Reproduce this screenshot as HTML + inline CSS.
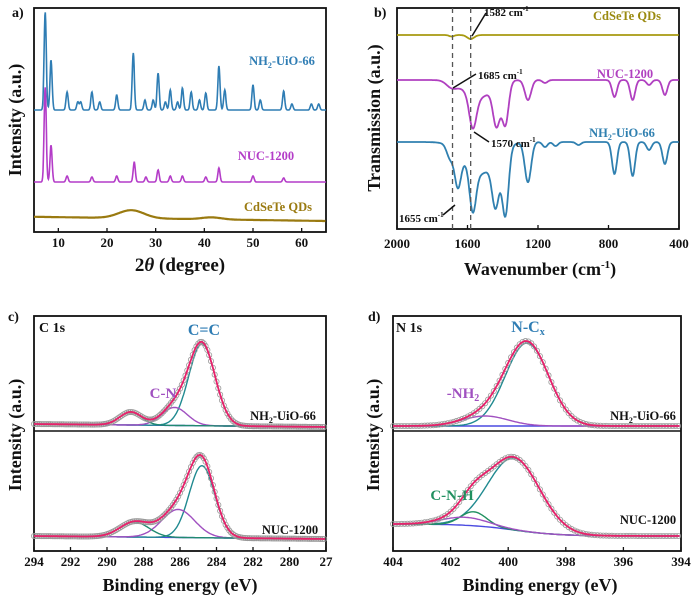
<!DOCTYPE html>
<html><head><meta charset="utf-8"><style>
html,body{margin:0;padding:0;background:#fff}
svg{display:block}
text{font-family:"Liberation Serif",serif;font-weight:bold}
</style></head><body>
<svg id="fig" width="700" height="599" viewBox="0 0 700 599" xmlns="http://www.w3.org/2000/svg"></svg>
<script>
// ---------- DATA ----------
// (a) XRD peaks: 2theta, height (a.u.)
const xrdBluePos = [7.3,8.5,11.8,14,14.6,16.9,18.5,22,25.4,27.8,29.5,30.5,32,33,34.5,35.5,37.3,39,40.3,43,44.2,50,51.5,56.3,58,62,63.5];
const xrdBlueH   = [98,50,18,8,8,18,8,15,57,10,10,37,8,20,8,22,18,10,17,44,20,25,10,19,6,6,6];
const xrdPurpPos = [7.3,8.5,11.8,16.9,22,25.6,28,30.5,33,35.5,40.3,43,50,56.3];
const xrdPurpH   = [95,37,6,5,6,20,5,12,6,6,5,14,6,4];
const xrdOlivePos = [25,41.5];
const xrdOliveH   = [8,2];
const xrdXTicks = [10,20,30,40,50,60];
// (b) FTIR bands: wavenumber, depth, width
const irBluePos = [1530,1700,1655,1570,1440,1385,1257,1160,1100,970,766,663,570,480];
const irBlueD   = [32,12,35,42,48,66,40,5,4,3,32,34,8,22];
const irBlueW   = [85,18,18,18,20,18,18,14,14,14,14,14,14,14];
const irPurpPos = [1540,1690,1570,1435,1385,1257,1160,766,663,570,480];
const irPurpD   = [18,6,32,40,42,20,3,17,20,5,15];
const irPurpW   = [75,30,20,20,18,18,14,14,14,14,14];
const irOlivePos = [1690,1582];
const irOliveD   = [1.5,4];
const irOliveW   = [14,20];
const irXTicks = [2000,1600,1200,800,400];
// (c) C1s components: center, height, sigma
const c1sTopC = [284.8,286.3,288.7];
const c1sTopH = [82,18,13];
const c1sTopS = [0.72,0.7,0.6];
const c1sBotC = [284.8,286.1,288.5];
const c1sBotH = [72,28,15];
const c1sBotS = [0.7,0.9,0.8];
const c1sXTicks = [294,292,290,288,286,284,282,280,278];
// (d) N1s components
const n1sTopC = [399.35,400.8];
const n1sTopH = [83,10];
const n1sTopS = [0.75,0.8];
const n1sBotC = [399.8,401.2,401.5];
const n1sBotH = [72,14,8];
const n1sBotS = [0.9,0.45,0.8];
const n1sXTicks = [404,402,400,398,396,394];

// ---------- helpers ----------
const NS="http://www.w3.org/2000/svg", svg=document.getElementById('fig');
function mk(tag,attrs,parent){const e=document.createElementNS(NS,tag);for(const k in attrs)e.setAttribute(k,attrs[k]);(parent||svg).appendChild(e);return e;}
function txt(x,y,s,size,fill,anchor,name,extra){const t=mk('text',Object.assign({x:x,y:y,'font-size':size,fill:fill||'#111','text-anchor':anchor||'middle'},extra||{}));t.textContent=s;


return t;}
const g=(x,c,s)=>Math.exp(-0.5*((x-c)/s)**2);
function path(pts,stroke,w,name){const d=pts.map((p,i)=>(i?'L':'M')+p[0].toFixed(1)+' '+p[1].toFixed(1)).join('');const e=mk('path',{d:d,fill:'none',stroke:stroke,'stroke-width':w});


return e;}
function frame(x0,y0,x1,y1,name){const r=mk('rect',{x:x0,y:y0,width:x1-x0,height:y1-y0,fill:'none',stroke:'#111','stroke-width':1.8});

}
function xticks(ticks,sx,y1,ly,name,labfn){ticks.forEach(t=>{const x=sx(t);mk('line',{x1:x,x2:x,y1:y1,y2:y1-4,stroke:'#111','stroke-width':1.3});txt(x,ly,labfn?labfn(t):String(t),13,'#111','middle',name);});}

// ---------- (a) XRD ----------
(function(){
 const X0=34,X1=326,Y0=8,Y1=232;
 const sx=v=>X0+(v-5)/60*(X1-X0);
 frame(X0,Y0,X1,Y1,'xrd-plot-frame');
 function series(pos,h,base,w,color,name){const pts=[];for(let t=5;t<=65;t+=0.08){let y=0;pos.forEach((p,i)=>y+=h[i]*g(t,p,w));pts.push([sx(t),base-y]);}path(pts,color,1.6,name);}
 series(xrdBluePos,xrdBlueH,110,0.22,'#2f7db4','xrd-nh2-uio-66-line');
 series(xrdPurpPos,xrdPurpH,182,0.22,'#b43cc8','xrd-nuc-1200-line');
 (function(){const pts=[];for(let t=5;t<=65;t+=0.1){let y=0;xrdOlivePos.forEach((p,i)=>y+=xrdOliveH[i]*g(t,p,i?2:2.6));pts.push([sx(t),221-y-0.07*(65-t)]);}path(pts,'#9a7a10',2.2,'xrd-cdsete-line');})();
 xticks(xrdXTicks,sx,Y1,247,'xrd-x-tick');
 const t=txt(180,271,'',19,'#111','middle','xrd-x-axis-title');t.innerHTML='2<tspan font-style="italic">θ</tspan> (degree)';
 txt(21,120,'Intensity (a.u.)',18,'#111','middle','xrd-y-axis-title',{transform:'rotate(-90 21 120)'});
 txt(12,17,'a)',14,'#111','start','panel-a-label');
 const l1=txt(282,65,'',12.5,'#2f7db4','middle','xrd-label-nh2-uio-66');l1.innerHTML='NH<tspan font-size="8" dy="3">2</tspan><tspan dy="-3">-UiO-66</tspan>';
 txt(266,160,'NUC-1200',12.5,'#b43cc8','middle','xrd-label-nuc-1200');
 txt(278,211,'CdSeTe QDs',12.5,'#9a7a10','middle','xrd-label-cdsete');
})();

// ---------- (b) FTIR ----------
(function(){
 const X0=397,X1=679,Y0=8,Y1=229;
 const sx=v=>X0+(2000-v)/1600*(X1-X0);
 frame(X0,Y0,X1,Y1,'ftir-plot-frame');
 function series(pos,d,wd,base,color,name){const pts=[];for(let w=2000;w>=400;w-=3){let y=0;pos.forEach((p,i)=>y+=d[i]*g(w,p,wd[i]));pts.push([sx(w),base+y]);}path(pts,color,1.8,name);}
 series(irOlivePos,irOliveD,irOliveW,35,'#a89a10','ftir-cdsete-line');
 series(irPurpPos,irPurpD,irPurpW,80,'#b040c0','ftir-nuc-1200-line');
 series(irBluePos,irBlueD,irBlueW,142,'#3080b0','ftir-nh2-uio-66-line');
 [1685,1582].forEach(w=>{const l=mk('line',{x1:sx(w),x2:sx(w),y1:Y0,y2:Y1,stroke:'#555','stroke-width':1.3,'stroke-dasharray':'5,4'});
 
 });
 xticks(irXTicks,sx,Y1,248,'ftir-x-tick');
 const t=txt(540,275,'',18,'#111','middle','ftir-x-axis-title');t.innerHTML='Wavenumber (cm<tspan font-size="11" dy="-7">-1</tspan><tspan dy="7">)</tspan>';
 txt(380,118,'Transmission (a.u.)',18,'#111','middle','ftir-y-axis-title',{transform:'rotate(-90 380 118)'});
 txt(374,17,'b)',14,'#111','start','panel-b-label');
 function ann(x,y,s,name){const e=txt(x,y,'',11,'#111','start',name);e.innerHTML=s+' cm<tspan font-size="7" dy="-5">-1</tspan>';}
 ann(484,16,'1582','annotation-1582');ann(478,79,'1685','annotation-1685');ann(491,147,'1570','annotation-1570');ann(399,222,'1655','annotation-1655');
 [[486,13,472,36],[476,74,453,88],[489,142,474,132],[443,215,455,205]].forEach(a=>{const l=mk('line',{x1:a[0],y1:a[1],x2:a[2],y2:a[3],stroke:'#111','stroke-width':1.5});
 
 });
 txt(627,20,'CdSeTe QDs',12.5,'#9a8a10','middle','ftir-label-cdsete');
 txt(625,78,'NUC-1200',12.5,'#b040c0','middle','ftir-label-nuc-1200');
 const l1=txt(622,137,'',12.5,'#3080b0','middle','ftir-label-nh2-uio-66');l1.innerHTML='NH<tspan font-size="8" dy="3">2</tspan><tspan dy="-3">-UiO-66</tspan>';
})();

// ---------- XPS helper ----------
function xps(X0,X1,xmax,xmin,C,H,S,base,bgL,colors,prefix,step){
 const sx=v=>X0+(xmax-v)/(xmax-xmin)*(X1-X0);
 const bg=v=>{let f=1/(1+Math.exp(-(v-C[0])/0.8));return base-bgL*(step?f:(v-xmin)/(xmax-xmin));};
 const comps=C.map((c,i)=>{const pts=[];for(let v=xmax;v>=xmin;v-=0.05)pts.push([sx(v),bg(v)-H[i]*g(v,c,S[i])]);return pts;});
 const bp=[];for(let v=xmax;v>=xmin;v-=0.1)bp.push([sx(v),bg(v)]);path(bp,'#4a4ae0',1.4,prefix+'-background');
 comps.forEach((p,i)=>path(p,colors[i],1.4,prefix+'-component-'+i));
 const env=[];for(let v=xmax;v>=xmin;v-=0.05){let y=0;C.forEach((c,i)=>y+=H[i]*g(v,c,S[i]));env.push([sx(v),bg(v)-y]);}
 for(let i=0;i<env.length;i+=2){const c=mk('circle',{cx:env[i][0],cy:env[i][1],r:2.6,fill:'none',stroke:'#999','stroke-width':0.8});
 
 }
 path(env,'#e8206a',1.8,prefix+'-fit-envelope');
 return sx;
}

// ---------- (c) C1s ----------
(function(){
 const X0=34,X1=326,Y0=316,Y1=551;
 frame(X0,Y0,X1,Y1,'c1s-plot-frame');
 const d=mk('line',{x1:X0,x2:X1,y1:431,y2:431,stroke:'#111','stroke-width':1.5});
 
 
 xps(X0,X1,294,278,c1sTopC,c1sTopH,c1sTopS,427,3,['#208a90','#a050c0','#208a70'],'c1s-nh2-uio-66');
 const sx=xps(X0,X1,294,278,c1sBotC,c1sBotH,c1sBotS,539,3,['#208a90','#a050c0','#208a70'],'c1s-nuc-1200');
 xticks(c1sXTicks,sx,Y1,566,'c1s-x-tick',t=>t===278?'27':String(t));
 txt(180,591,'Binding energy (eV)',18,'#111','middle','c1s-x-axis-title');
 txt(21,435,'Intensity (a.u.)',18,'#111','middle','c1s-y-axis-title',{transform:'rotate(-90 21 435)'});
 txt(8,321,'c)',14,'#111','start','panel-c-label');
 txt(39,332,'C 1s',14,'#111','start','c1s-title');
 txt(204,335,'C=C',16,'#2f7db4','middle','label-c-eq-c',{'font-weight':'normal'});
 txt(163,398,'C-N',15,'#a050c0','middle','label-c-n',{'font-weight':'normal'});
 const l1=txt(283,420,'',12.5,'#111','middle','c1s-label-nh2-uio-66');l1.innerHTML='NH<tspan font-size="8" dy="3">2</tspan><tspan dy="-3">-UiO-66</tspan>';
 txt(290,534,'NUC-1200',12.5,'#111','middle','c1s-label-nuc-1200');
})();

// ---------- (d) N1s ----------
(function(){
 const X0=393,X1=681,Y0=316,Y1=551;
 frame(X0,Y0,X1,Y1,'n1s-plot-frame');
 const d=mk('line',{x1:X0,x2:X1,y1:431,y2:431,stroke:'#111','stroke-width':1.5});
 
 
 xps(X0,X1,404,394,n1sTopC,n1sTopH,n1sTopS,426,0,['#208a90','#a050c0'],'n1s-nh2-uio-66');
 const sx=xps(X0,X1,404,394,n1sBotC,n1sBotH,n1sBotS,536,12,['#208a90','#209060','#a050c0'],'n1s-nuc-1200',true);
 xticks(n1sXTicks,sx,Y1,566,'n1s-x-tick');
 txt(540,591,'Binding energy (eV)',18,'#111','middle','n1s-x-axis-title');
 txt(379,435,'Intensity (a.u.)',18,'#111','middle','n1s-y-axis-title',{transform:'rotate(-90 379 435)'});
 txt(368,321,'d)',14,'#111','start','panel-d-label');
 txt(396,332,'N 1s',14,'#111','start','n1s-title');
 const nc=txt(528,332,'',16,'#2f7db4','middle','label-n-cx',{'font-weight':'normal'});nc.innerHTML='N-C<tspan font-size="10" dy="3">x</tspan>';
 const nh=txt(463,398,'',15,'#a050c0','middle','label-nh2',{'font-weight':'normal'});nh.innerHTML='-NH<tspan font-size="10" dy="3">2</tspan>';
 txt(452,500,'C-N-H',15,'#209060','middle','label-c-n-h');
 const l1=txt(643,420,'',12.5,'#111','middle','n1s-label-nh2-uio-66');l1.innerHTML='NH<tspan font-size="8" dy="3">2</tspan><tspan dy="-3">-UiO-66</tspan>';
 txt(648,524,'NUC-1200',12.5,'#111','middle','n1s-label-nuc-1200');
})();
</script>
</body></html>
